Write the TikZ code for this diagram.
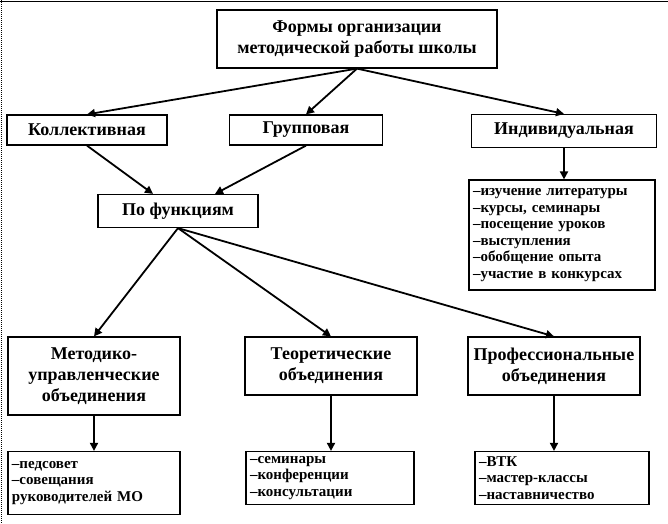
\documentclass[tikz,border=0pt]{standalone}
\usepackage{fontspec}
\setmainfont{Liberation Serif}
\usetikzlibrary{positioning,arrows.meta}
\begin{document}
\begin{tikzpicture}[
    x=1pt, y=-1pt,
    thick,
    box/.style={
        rectangle,
        draw=black,
        line width=1.2pt,
        font=\bfseries\fontsize{18}{21}\selectfont,
        align=center,
        inner sep=2pt
    },
    list/.style={
        rectangle,
        draw=black,
        line width=1.2pt,
        font=\bfseries\fontsize{15}{16.5}\selectfont,
        align=left,
        inner sep=4pt
    },
    arrow/.style={-{Triangle[length=8pt,width=8pt]}, line width=1.8pt}
]
    \useasboundingbox (0,0) rectangle (668,523);
    \draw[line width=0.8pt] (0,1) -- (668,1);
    \draw[line width=0.8pt, dash pattern=on 1pt off 1pt] (1,0) -- (1,523);

    % Top
    \node[box, minimum width=280pt, minimum height=58pt] (forms) at (357,39)
        {Формы организации\\методической работы школы};

    % Second row
    \node[box, minimum width=160pt, minimum height=30pt] (coll) at (87,130) {Коллективная};
    \node[box, minimum width=153pt, minimum height=30pt] (group) at (306,130) {Групповая};
    \node[box, minimum width=185pt, minimum height=33pt] (indiv) at (564,131) {Индивидуальная};

    % Functions
    \node[box, minimum width=160pt, minimum height=33pt] (func) at (178,211) {По функциям};

    % Individual list
    \node[list, text width=178pt, minimum height=110pt] (indlist) at (562,235)
        {–изучение литературы\\–курсы, семинары\\–посещение уроков\\–выступления\\–обобщение опыта\\–участие в конкурсах};

    % Third row
    \node[box, minimum width=172pt, minimum height=78pt] (method) at (94,376)
        {Методико-\\управленческие\\объединения};
    \node[box, minimum width=172pt, minimum height=58pt] (theory) at (331,366)
        {Теоретические\\объединения};
    \node[box, minimum width=172pt, minimum height=58pt] (prof) at (554,366)
        {Профессиональные\\объединения};

    % Bottom lists
    \node[list, text width=164pt, minimum height=63pt] (mlist) at (94,483)
        {–педсовет\\–совещания\\руководителей МО};
    \node[list, text width=160pt, minimum height=53pt] (tlist) at (330,478)
        {–семинары\\–конференции\\–консультации};
    \node[list, text width=166pt, minimum height=53pt] (plist) at (562,478)
        {–ВТК\\–мастер-классы\\–наставничество};

    % Connections
    \draw[arrow] (forms.south) -- (coll.north);
    \draw[arrow] (forms.south) -- (group.north);
    \draw[arrow] (forms.south) -- (indiv.north);
    \draw[arrow] (coll.south) -- ([xshift=-25pt]func.north);
    \draw[arrow] (group.south) -- ([xshift=37pt]func.north);
    \draw[arrow] (indiv.south) -- (indiv.south |- indlist.north);
    \draw[arrow] (func.south) -- (method.north);
    \draw[arrow] (func.south) -- (theory.north);
    \draw[arrow] (func.south) -- (prof.north);
    \draw[arrow] (method.south) -- (method.south |- mlist.north);
    \draw[arrow] (theory.south) -- (theory.south |- tlist.north);
    \draw[arrow] (prof.south) -- (prof.south |- plist.north);
\end{tikzpicture}
\end{document}
